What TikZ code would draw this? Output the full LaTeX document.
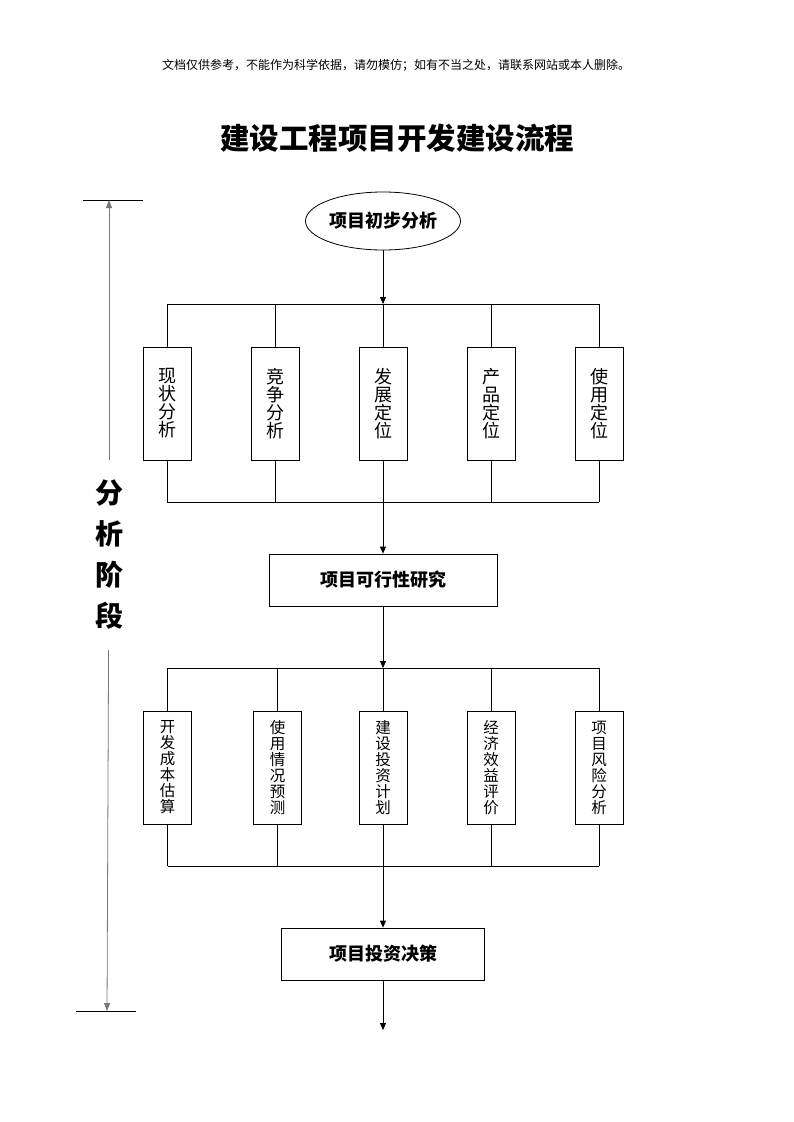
\documentclass[tikz,border=0pt]{standalone}
\usepackage{fontspec}
\setmainfont{Noto Sans CJK SC}
\usetikzlibrary{calc,positioning,shapes.geometric,arrows.meta}
\definecolor{bar}{RGB}{120,120,120}

\begin{document}
\begin{tikzpicture}[x=1pt,y=-1pt,line width=0.8pt,
    part/.style={draw,minimum width=48pt,minimum height=113pt,inner sep=0pt,align=center},
    main/.style={draw,minimum height=52pt,inner sep=0pt,font=\fontsize{18}{18}\selectfont\bfseries}]
    \useasboundingbox (0,0) rectangle (793,1122);

    \node (note) at (396,65) {\fontsize{12}{12}\selectfont
        文档仅供参考，不能作为科学依据，请勿模仿；如有不当之处，请联系网站或本人删除。};
    \node (title) at (397,138) {\fontsize{29.5}{29.5}\selectfont\bfseries 建设工程项目开发建设流程};

    % analysis stage bar
    \coordinate (stagetop) at (109,200);
    \coordinate (stagebot) at (107,1011);
    \draw (83,200) -- (143,200);
    \draw (76,1011) -- (136,1011);
    \node[align=center,inner xsep=0pt,inner ysep=20pt,font=\fontsize{28}{41}\selectfont\bfseries]
        (stage) at (109,555) {分\\析\\阶\\段};
    \path[-{Triangle[length=8pt,width=6pt]},bar] (stage) edge (stagetop);
    \path[-{Triangle[length=8pt,width=6pt]},bar] (stage) edge (stagebot);

    % first step
    \node[draw,ellipse,minimum width=155pt,minimum height=58pt,inner sep=0pt,
        font=\fontsize{18}{18}\selectfont\bfseries] (start) at (383,221) {项目初步分析};
    \coordinate (busa) at (383,304);
    \coordinate (busb) at (383,502);
    \path[-{Triangle[length=7pt,width=6pt]}] (start) edge (busa);

    \node[part,font=\fontsize{18}{18}\selectfont] (now) at (167,403.5) {现\\状\\分\\析};
    \node[part,font=\fontsize{18}{18}\selectfont] (rival) at (275,403.5) {竞\\争\\分\\析};
    \node[part,font=\fontsize{18}{18}\selectfont] (growth) at (383,403.5) {发\\展\\定\\位};
    \node[part,font=\fontsize{18}{18}\selectfont] (product) at (491,403.5) {产\\品\\定\\位};
    \node[part,font=\fontsize{18}{18}\selectfont] (usage) at (599,403.5) {使\\用\\定\\位};

    \draw (now.north |- busa) -- (usage.north |- busa);
    \draw (now.south |- busb) -- (usage.south |- busb);
    \draw (now.north) -- (now.north |- busa) (now.south) -- (now.south |- busb);
    \draw (rival.north) -- (rival.north |- busa) (rival.south) -- (rival.south |- busb);
    \draw (growth.north) -- (busa) (growth.south) -- (busb);
    \draw (product.north) -- (product.north |- busa) (product.south) -- (product.south |- busb);
    \draw (usage.north) -- (usage.north |- busa) (usage.south) -- (usage.south |- busb);

    % feasibility
    \node[main,minimum width=228pt] (study) at (383,580) {项目可行性研究};
    \path[-{Triangle[length=7pt,width=6pt]}] (busb) edge (study);
    \coordinate (busc) at (383,668);
    \coordinate (busd) at (383,866);
    \path[-{Triangle[length=7pt,width=6pt]}] (study) edge (busc);

    \node[part,font=\fontsize{15.5}{16}\selectfont] (cost) at (167.5,767.5) {开\\发\\成\\本\\估\\算};
    \node[part,font=\fontsize{15.5}{16}\selectfont] (forecast) at (277.5,767.5) {使\\用\\情\\况\\预\\测};
    \node[part,font=\fontsize{15.5}{16}\selectfont] (invest) at (383,767.5) {建\\设\\投\\资\\计\\划};
    \node[part,font=\fontsize{15.5}{16}\selectfont] (benefit) at (491,767.5) {经\\济\\效\\益\\评\\价};
    \node[part,font=\fontsize{15.5}{16}\selectfont] (risk) at (599,767.5) {项\\目\\风\\险\\分\\析};

    \draw (cost.north |- busc) -- (risk.north |- busc);
    \draw (cost.south |- busd) -- (risk.south |- busd);
    \draw (cost.north) -- (cost.north |- busc) (cost.south) -- (cost.south |- busd);
    \draw (forecast.north) -- (forecast.north |- busc) (forecast.south) -- (forecast.south |- busd);
    \draw (invest.north) -- (busc) (invest.south) -- (busd);
    \draw (benefit.north) -- (benefit.north |- busc) (benefit.south) -- (benefit.south |- busd);
    \draw (risk.north) -- (risk.north |- busc) (risk.south) -- (risk.south |- busd);

    % decision
    \node[main,minimum width=203pt] (decide) at (383,954) {项目投资决策};
    \path[-{Triangle[length=7pt,width=6pt]}] (busd) edge (decide);
    \coordinate (next) at (383,1030);
    \path[-{Triangle[length=7pt,width=6pt]}] (decide) edge (next);
\end{tikzpicture}
\end{document}
